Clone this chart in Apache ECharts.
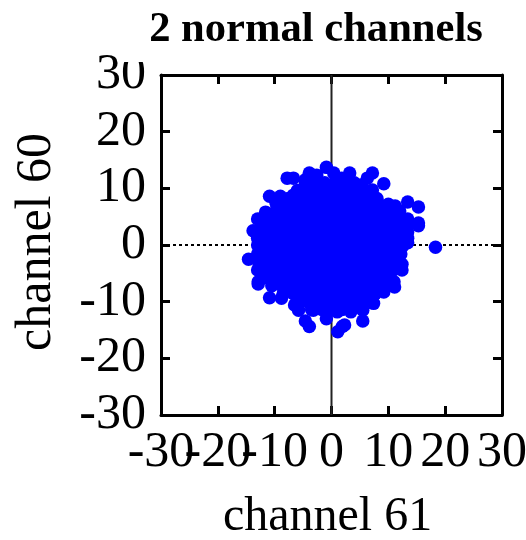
<!DOCTYPE html>
<html><head><meta charset="utf-8">
<style>html,body{margin:0;padding:0;background:#fff}#c{width:526px;height:540px}</style>
<script src="https://cdn.jsdelivr.net/npm/echarts@6/dist/echarts.min.js"></script>
</head><body><div id="c"></div>
<script>
const titleText = "2 normal channels";
const xName = "channel 61";
const yName = "channel 60";
const tickValues = [-30,-20,-10,0,10,20,30];
const xLabelsA = [-30,-10,0,10,30];
const xLabelsB = [-20,20];
const zeroSpan = [-30,30];
const edgePoints = [[-7.8,11.8],[-6.7,11.8],[-10.9,8.6],[-9,8.6],[-6.7,8.8],[-3.9,12.7],[-2.6,12.3],[-0.9,13.7],[-4.6,10.8],[-11.6,5.8],[-13,4.6],[-13.8,2.5],[-13,0],
[3.2,12.7],[7.2,12.7],[6.3,11.8],[9.2,10.8],[7.2,9.7],[13.4,7.6],[15.3,6.7],[13.4,4.6],[15.3,3.9],[15.3,3.4],[13.4,2.3],[13.4,0.4],[18.3,-0.4],[11,5.8],[9,6.9],
[12,6],[11.2,6.9],[10,7.2],[13.4,3.5],[13.4,1.2],[-9.8,7.6],[-8.5,7.6],[0.4,12.7],[-4.6,11.5],[5.2,10.6],[1.8,11.8],
[-14.6,-2.5],[-13,-4.4],[-12.9,-6.5],[-12.9,-6.9],[-10.9,-9.3],[-8.8,-9.4],[-6.5,-10.6],[-5.8,-11.5],[-4.6,-13.4],[-3.9,-14.4],[-0.9,-13],[-3.2,-11.5],
[1.1,-15.3],[1.9,-14.4],[2.3,-14.1],[5.5,-13.4],[5.5,-11.5],[3.4,-11.8],[1,-11.8],[7.4,-10.3],[9.2,-8.3],[11.1,-7.4],[12.4,-4.4],[12.4,-3.4],[11,-6.5]];
const corePoints = [
[-3,11],[-1.2,11],[0.6,11],[2.4,11],[4,11],
[-6,9.6],[-4.2,9.6],[-2.4,9.6],[-0.6,9.6],[1.2,9.6],[3,9.6],[4.8,9.6],[6,9.6],
[-7.6,8.2],[-5.8,8.2],[-4,8.2],[-2.2,8.2],[-0.4,8.2],[1.4,8.2],[3.2,8.2],[5,8.2],[6.8,8.2],[8,8.2],
[-9.6,6.8],[-7.8,6.8],[-6,6.8],[-4.2,6.8],[-2.4,6.8],[-0.6,6.8],[1.2,6.8],[3,6.8],[4.8,6.8],[6.6,6.8],[8.4,6.8],
[-10.6,5.4],[-8.8,5.4],[-7,5.4],[-5.2,5.4],[-3.4,5.4],[-1.6,5.4],[0.2,5.4],[2,5.4],[3.8,5.4],[5.6,5.4],[7.4,5.4],[9.2,5.4],[10.2,5.4],
[-12,4],[-10.2,4],[-8.4,4],[-6.6,4],[-4.8,4],[-3,4],[-1.2,4],[0.6,4],[2.4,4],[4.2,4],[6,4],[7.8,4],[9.6,4],[11.4,4],[12,4],
[-12.5,2.6],[-10.7,2.6],[-8.9,2.6],[-7.1,2.6],[-5.3,2.6],[-3.5,2.6],[-1.7,2.6],[0.1,2.6],[1.9,2.6],[3.7,2.6],[5.5,2.6],[7.3,2.6],[9.1,2.6],[10.9,2.6],[12.5,2.6],
[-13,1.2],[-11.2,1.2],[-9.4,1.2],[-7.6,1.2],[-5.8,1.2],[-4,1.2],[-2.2,1.2],[-0.4,1.2],[1.4,1.2],[3.2,1.2],[5,1.2],[6.8,1.2],[8.6,1.2],[10.4,1.2],[12.2,1.2],
[-12.6,-0.2],[-10.8,-0.2],[-9,-0.2],[-7.2,-0.2],[-5.4,-0.2],[-3.6,-0.2],[-1.8,-0.2],[0,-0.2],[1.8,-0.2],[3.6,-0.2],[5.4,-0.2],[7.2,-0.2],[9,-0.2],[10.8,-0.2],[12.5,-0.2],
[-13,-1.6],[-11.2,-1.6],[-9.4,-1.6],[-7.6,-1.6],[-5.8,-1.6],[-4,-1.6],[-2.2,-1.6],[-0.4,-1.6],[1.4,-1.6],[3.2,-1.6],[5,-1.6],[6.8,-1.6],[8.6,-1.6],[10.4,-1.6],[12.2,-1.6],
[-12.8,-3],[-11,-3],[-9.2,-3],[-7.4,-3],[-5.6,-3],[-3.8,-3],[-2,-3],[-0.2,-3],[1.6,-3],[3.4,-3],[5.2,-3],[7,-3],[8.8,-3],[10.6,-3],[12,-3],
[-12.5,-4.4],[-10.7,-4.4],[-8.9,-4.4],[-7.1,-4.4],[-5.3,-4.4],[-3.5,-4.4],[-1.7,-4.4],[0.1,-4.4],[1.9,-4.4],[3.7,-4.4],[5.5,-4.4],[7.3,-4.4],[9.1,-4.4],[10.9,-4.4],
[-11.5,-5.8],[-9.7,-5.8],[-7.9,-5.8],[-6.1,-5.8],[-4.3,-5.8],[-2.5,-5.8],[-0.7,-5.8],[1.1,-5.8],[2.9,-5.8],[4.7,-5.8],[6.5,-5.8],[8.3,-5.8],[10.1,-5.8],
[-10.5,-7.2],[-8.7,-7.2],[-6.9,-7.2],[-5.1,-7.2],[-3.3,-7.2],[-1.5,-7.2],[0.3,-7.2],[2.1,-7.2],[3.9,-7.2],[5.7,-7.2],[7.5,-7.2],[9.3,-7.2],
[-8.5,-8.6],[-6.7,-8.6],[-4.9,-8.6],[-3.1,-8.6],[-1.3,-8.6],[0.5,-8.6],[2.3,-8.6],[4.1,-8.6],[5.9,-8.6],[7.7,-8.6],
[-6,-10],[-4.2,-10],[-2.4,-10],[-0.6,-10],[1.2,-10],[3,-10],[4.8,-10],[6,-10],
[-3.5,-11.4],[-1.7,-11.4],[0.1,-11.4],[1.9,-11.4],[3.5,-11.4]];

const font = "'Liberation Serif','Times New Roman',serif";
function axis(extra){
  return Object.assign({type:'value',min:-30,max:30,interval:10,
    splitLine:{show:false},
    axisLine:{show:true,onZero:false,lineStyle:{color:'#000',width:3}},
    axisTick:{show:true,inside:true,length:9,lineStyle:{color:'#000',width:3}}},extra);
}
function labels(values,margin){
  return {show:true,color:'#000',fontFamily:font,fontSize:50,margin:margin,hideOverlap:false,customValues:values,formatter:v=>String(v)};
}
const chart = echarts.init(document.getElementById('c'),null,{renderer:'canvas'});
chart.setOption({
  animation:false,backgroundColor:'#fff',
  title:{text:titleText,left:311,top:3,textAlign:'center',textStyle:{fontFamily:font,fontWeight:'bold',fontSize:42.6,color:'#000'}},
  grid:{left:161,top:75,width:341,height:340,containLabel:false,outerBoundsMode:'none'},
  xAxis:[axis({position:'bottom',axisLabel:labels(xLabelsA,13),name:xName,nameLocation:'middle',nameGap:78,nameMoveOverlap:false,nameTextStyle:{fontFamily:font,fontSize:48,color:'#000',padding:[0,8,0,0]}}),
         axis({position:'top',axisLabel:{show:false}}),
         axis({position:'bottom',axisLine:{show:false,onZero:false},axisTick:{show:false},axisLabel:labels(xLabelsB,13)})],
  yAxis:[axis({position:'left',axisLabel:labels(tickValues,15),name:yName,nameLocation:'middle',nameGap:99,nameMoveOverlap:false,nameTextStyle:{fontFamily:font,fontSize:50,color:'#000',padding:[0,0,0,6]}}),
         axis({position:'right',axisLabel:{show:false}})],
  graphic:[{type:'rect',z:100,shape:{x:122,y:52,width:26,height:10},style:{fill:'#fff'}}],
  series:[
    {type:'line',silent:true,symbol:'none',z:1,data:zeroSpan.map(x=>[x,0]),lineStyle:{color:'#000',width:2,type:[3,3]}},
    {type:'line',silent:true,symbol:'none',z:1,data:zeroSpan.map(y=>[0,y]),lineStyle:{color:'#222',width:2}},
    {type:'scatter',z:3,symbol:'circle',symbolSize:13.5,silent:true,itemStyle:{color:'#0000ff',opacity:1},data:corePoints.concat(edgePoints),large:false}
  ]
});
</script></body></html>
